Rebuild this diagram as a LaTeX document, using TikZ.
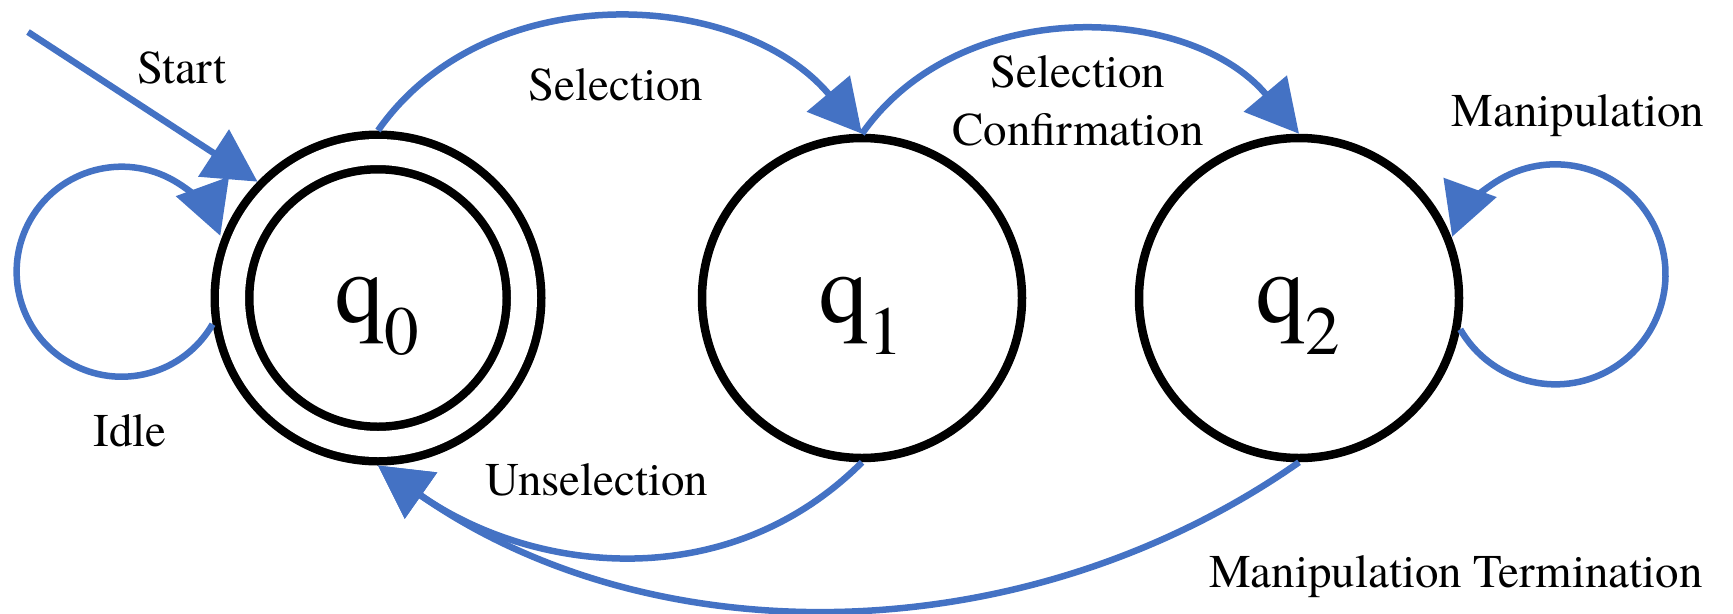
\documentclass[tikz,border=0pt]{standalone}
\usepackage{fontspec}
\setmainfont{TeX Gyre Termes}
\usepackage{xcolor}
\usetikzlibrary{arrows.meta}

\definecolor{edgeblue}{HTML}{4472C4}

\begin{document}
\begin{tikzpicture}[
    state/.style={circle, draw, line width=0.17cm, minimum size=6.4cm, inner sep=0pt,
      font=\fontsize{56}{60}\selectfont, text height=40pt, text depth=12pt},
    accept/.style={double, double distance=0.52cm, minimum size=5.84cm, outer sep=0.43cm},
    trans/.style={draw=edgeblue, line width=0.13cm, -{Triangle[length=1.05cm, width=1.1cm]}},
    lbl/.style={font=\fontsize{26.7}{33}\selectfont, inner sep=0pt}]
     \useasboundingbox (0,0) rectangle (34.66,-12.26);

     \node[state, accept] (q0) at (7.56,-5.96) {q\textsubscript{0}};
     \node[state] (q1) at (17.24,-5.96) {q\textsubscript{1}};
     \node[state] (q2) at (25.98,-5.96) {q\textsubscript{2}};
     \coordinate (in) at (0.56,-0.64);

     \node[lbl] (startlbl) at (3.64,-1.36) {Start};
     \node[lbl] (sellbl) at (12.32,-1.70) {Selection};
     \node[lbl, align=center] (conflbl) at (21.56,-2.02) {Selection\\Confirmation};
     \node[lbl] (maniplbl) at (31.56,-2.32) {Manipulation};
     \node[lbl] (idlelbl) at (2.6,-8.62) {Idle};
     \node[lbl] (unsellbl) at (11.94,-9.6) {Unselection};
     \node[lbl] (termlbl) at (29.12,-11.54) {Manipulation Termination};

     \draw[trans] (in) -- (q0.136);
     \draw[trans] (q0.189) arc[start angle=-30, end angle=-340, radius=2.1cm];
     \draw[trans] (q0.north) to[out=55, in=130] (q1.north);
     \draw[trans] (q1.north) to[out=55, in=130] (q2.north);
     \draw[trans] (q2.-11) arc[start angle=210, end angle=520, radius=2.2cm];
     \draw[trans] (q1.south) to[out=225, in=-35] (q0.south);
     \draw[trans] (q2.south) to[out=215, in=-35, looseness=0.93] (q0.south);
 \end{tikzpicture}
\end{document}
